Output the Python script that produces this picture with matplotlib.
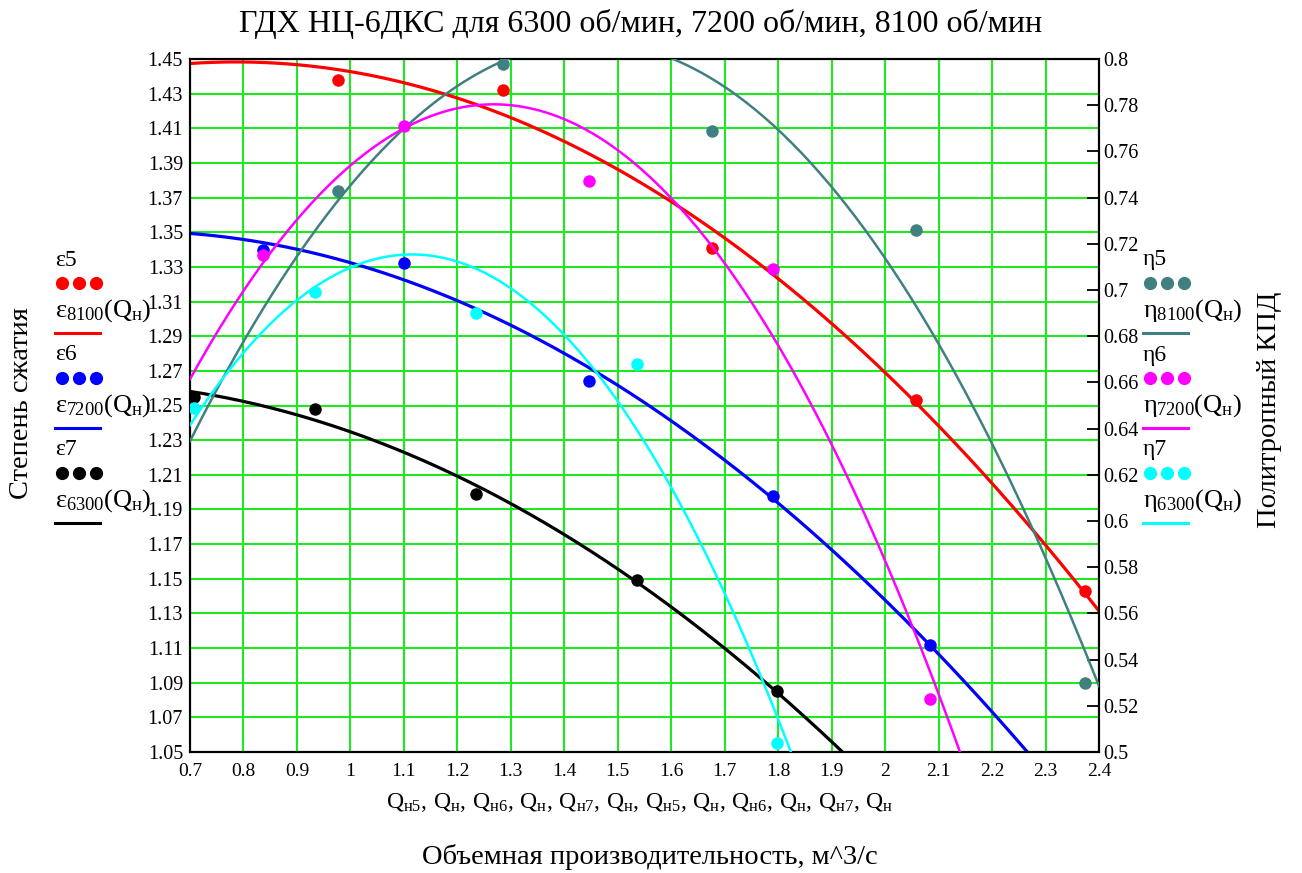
import matplotlib
matplotlib.use("Agg")
import matplotlib.pyplot as plt
import numpy as np
from matplotlib.lines import Line2D
from matplotlib.ticker import FixedLocator, FormatStrFormatter, MultipleLocator

plt.rcParams["font.family"] = ["Liberation Serif", "DejaVu Serif"]
plt.rcParams["mathtext.fontset"] = "custom"
plt.rcParams["mathtext.rm"] = "Liberation Serif"
plt.rcParams["mathtext.it"] = "Liberation Serif"
plt.rcParams["mathtext.bf"] = "Liberation Serif:bold"

# flow rates for each speed, m^3/s
q_8100 = [0.976, 1.285, 1.677, 2.058, 2.373]
q_7200 = [0.836, 1.101, 1.447, 1.790, 2.084]
q_6300 = [0.707, 0.934, 1.234, 1.536, 1.797]

# pressure ratio
eps_8100 = [1.438, 1.432, 1.341, 1.253, 1.143]
eps_7200 = [1.340, 1.332, 1.264, 1.198, 1.112]
eps_6300 = [1.255, 1.248, 1.199, 1.149, 1.085]

# polytropic efficiency
eta_8100 = [0.743, 0.798, 0.769, 0.726, 0.530]
eta_7200 = [0.715, 0.771, 0.747, 0.709, 0.523]
eta_6300 = [0.649, 0.699, 0.690, 0.668, 0.504]

eps_ticks = np.round(np.arange(1.05, 1.4501, 0.02), 2)

teal = "#408080"
grid_green = "#1ee81e"

W, H = 1302, 873
fig = plt.figure(figsize=(W / 100, H / 100), dpi=100)
ax = fig.add_axes([190 / W, 1 - 752 / H, (1099 - 190) / W, (752 - 59) / H])
ax2 = ax.twinx()

q_fit = np.linspace(0.7, 2.4, 300)


def fit(q, v):
    # quadratic regression, like the original worksheet
    return np.polyval(np.polyfit(q, v, 2), q_fit)


eps_series = [(q_8100, eps_8100, "red"), (q_7200, eps_7200, "blue"), (q_6300, eps_6300, "black")]
eta_series = [(q_8100, eta_8100, teal), (q_7200, eta_7200, "magenta"), (q_6300, eta_6300, "cyan")]

for q, v, c in eps_series:
    ax.plot(q_fit, fit(q, v), color=c, lw=2.3, zorder=3)
    ax.plot(q, v, "o", color=c, ms=9, mec="none", zorder=4)
for q, v, c in eta_series:
    ax2.plot(q_fit, fit(q, v), color=c, lw=1.8, zorder=3)
    ax2.plot(q, v, "o", color=c, ms=9, mec="none", zorder=4)

ax.set_xlim(0.7, 2.4)
ax.set_ylim(1.05, 1.45)
ax2.set_ylim(0.5, 0.8)
ax.xaxis.set_major_locator(MultipleLocator(0.1))
ax.yaxis.set_major_locator(FixedLocator(eps_ticks))
ax2.yaxis.set_major_locator(MultipleLocator(0.02))
ax.xaxis.set_major_formatter(FormatStrFormatter("%g"))
ax.yaxis.set_major_formatter(FormatStrFormatter("%.2f"))
ax2.yaxis.set_major_formatter(FormatStrFormatter("%g"))
ax.grid(True, color=grid_green, lw=1.5, zorder=0)
ax.set_axisbelow(True)
ax.tick_params(axis="both", length=0, labelsize=14)
ax.tick_params(axis="x", pad=8)
ax.tick_params(axis="y", pad=5, labelsize=14.5)
ax2.tick_params(axis="y", direction="in", length=9, width=1.3, labelsize=14.5, pad=3)
for a in (ax, ax2):
    for s in a.spines.values():
        s.set_color("black")
        s.set_linewidth(1.5)

# titles and axis labels
fig.text(641 / W, 1 - 24 / H, "ГДХ НЦ-6ДКС для 6300 об/мин, 7200 об/мин, 8100 об/мин",
         ha="center", va="center", fontsize=23)
fig.text(640 / W, 1 - 803 / H,
         r"$Q_{н5},\,Q_{н},\,Q_{н6},\,Q_{н},\,Q_{н7},\,Q_{н},\,Q_{н5},\,Q_{н},\,Q_{н6},\,Q_{н},\,Q_{н7},\,Q_{н}$",
         ha="center", va="center", fontsize=17)
fig.text(650 / W, 1 - 857 / H, "Объемная производительность, м^3/с",
         ha="center", va="center", fontsize=20.5)
fig.text(22 / W, 1 - 403 / H, "Степень сжатия", rotation=90,
         ha="center", va="center", fontsize=20.5)
fig.text(1270 / W, 1 - 410 / H, "Политропный КПД", rotation=90,
         ha="center", va="center", fontsize=20.5)

# Mathcad-style trace legends
left_names = [("ε5", r"$ε_{8100}(Q_{н})$"), ("ε6", r"$ε_{7200}(Q_{н})$"), ("ε7", r"$ε_{6300}(Q_{н})$")]
right_names = [("η5", r"$η_{8100}(Q_{н})$"), ("η6", r"$η_{7200}(Q_{н})$"), ("η7", r"$η_{6300}(Q_{н})$")]


def legend_block(x0, names, series):
    for i, ((short, full), (_, _, c)) in enumerate(zip(names, series)):
        y0 = 260 + 95 * i
        fig.text(x0 / W, 1 - y0 / H, short, ha="left", va="center", fontsize=17)
        fig.add_artist(Line2D([(x0 + 7) / W, (x0 + 24) / W, (x0 + 41) / W], [1 - (y0 + 23) / H] * 3,
                              ls="none", marker="o", ms=9.5, mec="none", color=c))
        fig.text(x0 / W, 1 - (y0 + 51) / H, full, ha="left", va="center", fontsize=19)
        fig.add_artist(Line2D([x0 / W, (x0 + 45) / W], [1 - (y0 + 73) / H] * 2,
                              color=c, lw=2.2))


legend_block(55, left_names, eps_series)
legend_block(1143, right_names, eta_series)

fig.savefig("out.png", dpi=100)
